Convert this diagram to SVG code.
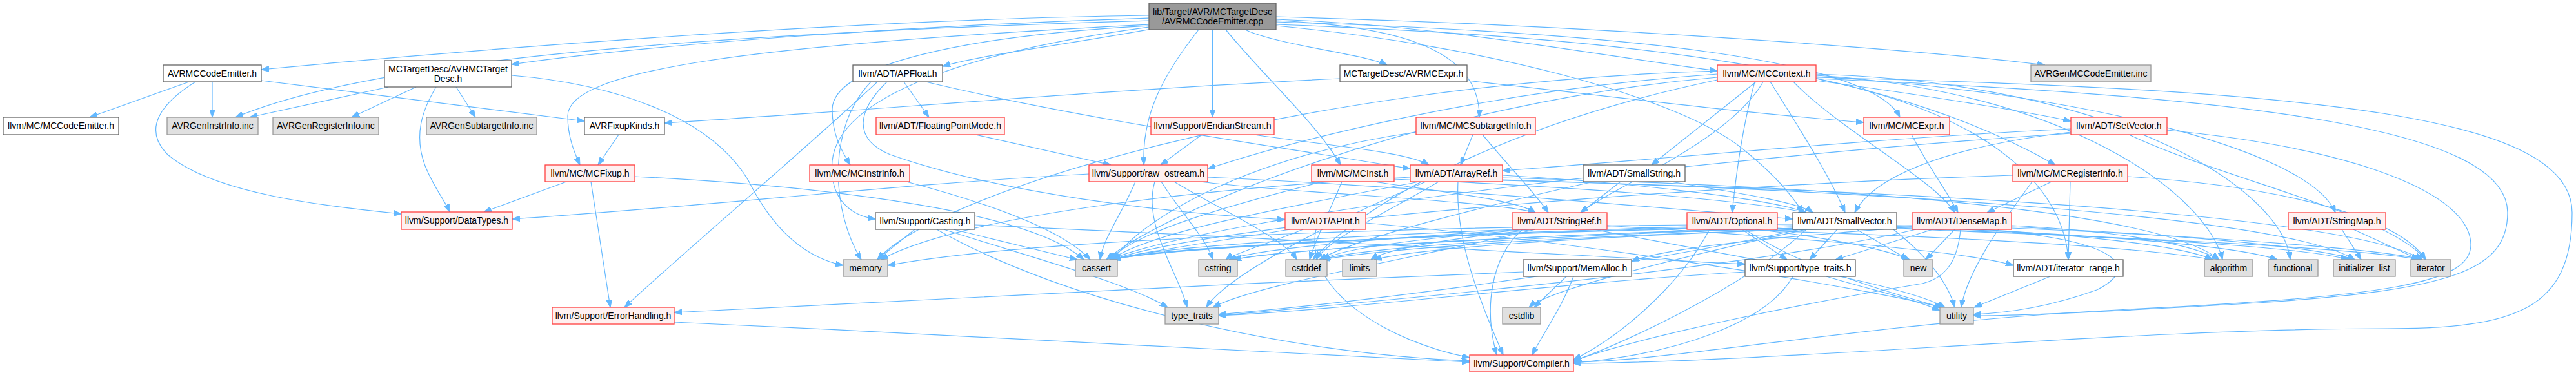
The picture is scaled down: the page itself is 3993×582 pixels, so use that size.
<svg xmlns="http://www.w3.org/2000/svg" width="3993" height="582" viewBox="0 0 3993 582">
<style>
text{font-family:"Liberation Sans",Arial,sans-serif;font-size:14px;fill:#000;text-anchor:middle}
rect{stroke-width:1.3}
.root{fill:#999999;stroke:#666666}
.nrm{fill:#ffffff;stroke:#666666}
.red{fill:#fff0f0;stroke:#ff4040}
.ext{fill:#e0e0e0;stroke:#999999}
#edges path{fill:none;stroke:#63b8ff;stroke-width:1.2;marker-end:url(#ah)}
</style>
<defs>
<marker id="ah" viewBox="0 0 12 9" refX="12" refY="4.5" markerWidth="12" markerHeight="9" markerUnits="userSpaceOnUse" orient="auto"><path d="M0,0 L12,4.5 L0,9 z" fill="#63b8ff" stroke="#63b8ff"/></marker>
</defs>
<rect width="3993" height="582" fill="#ffffff"/>
<g id="edges">
<path d="M1781,24 C1300,30 700,80 405,108"/>
<path d="M1781,28 C1400,40 1000,70 793,100"/>
<path d="M1781,32 C1000,55 560,100 365,182"/>
<path d="M1785,45 C1650,70 1520,85 1461,103"/>
<path d="M1930,46 C1980,70 2120,85 2150,101"/>
<path d="M1978,30 C2250,40 2500,90 2662,110"/>
<path d="M1978,26 C2500,40 3000,80 3170,101"/>
<path d="M1978,34 C2500,50 2900,90 2945,182"/>
<path d="M1781,38 C1150,70 880,110 880,180 C880,215 892,240 899,256"/>
<path d="M1900,46 C1960,120 2040,190 2078,256"/>
<path d="M1781,40 C1500,55 1290,100 1290,170 C1290,210 1305,235 1318,256"/>
<path d="M1978,38 C2600,60 2950,120 3186,256"/>
<path d="M1978,32 C2150,40 2295,70 2293,182"/>
<path d="M1781,42 C1500,80 1300,150 1290,250 C1285,310 1320,335 1357,340"/>
<path d="M1879.5,46 L1879.5,182"/>
<path d="M1858,46 C1800,120 1770,180 1773,256"/>
<path d="M1978,40 C2300,70 2600,150 2700,230 C2750,270 2775,300 2795,330"/>
<path d="M293,127 L139,182"/>
<path d="M329,127 L329,182"/>
<path d="M303,127 C250,160 220,200 260,240 C330,300 500,320 622,332"/>
<path d="M405,125 L906,188"/>
<path d="M602,135 L387,182"/>
<path d="M645,135 L545,182"/>
<path d="M707,135 L737,182"/>
<path d="M676,135 C655,170 640,210 660,260 C675,295 690,312 697,329"/>
<path d="M793,117 C950,130 1100,180 1160,280 C1200,360 1250,400 1307,412"/>
<path d="M2077,122 C1700,140 1300,175 1030,191"/>
<path d="M2274,125 C2500,150 2700,175 2889,190"/>
<path d="M959,209 L927,256"/>
<path d="M878,282 L750,329"/>
<path d="M916,282 L946,477"/>
<path d="M984,274 C1300,290 1600,330 1680,403"/>
<path d="M1401,127 L1440,182"/>
<path d="M1435,127 C1700,190 2000,230 2186,262"/>
<path d="M1375,127 C1330,170 1320,215 1380,240 C1550,300 1800,330 1992,341"/>
<path d="M1360,127 C1250,230 1050,400 968,477"/>
<path d="M1350,127 C1280,200 1290,330 1335,403"/>
<path d="M1512,209 L1722,256"/>
<path d="M1863,209 L1799,256"/>
<path d="M1944,209 C2050,225 2180,235 2215,256"/>
<path d="M1688,270 C1400,285 1100,320 794,340"/>
<path d="M1872,275 C2200,290 2550,320 2779,340"/>
<path d="M1860,282 C2000,300 2300,310 2380,330"/>
<path d="M1760,282 C1740,330 1710,370 1705,403"/>
<path d="M1820,282 C1900,330 1990,370 2010,403"/>
<path d="M1800,282 C1830,330 1870,370 1880,403"/>
<path d="M1790,282 C1770,350 1830,430 1840,477"/>
<path d="M2780,127 C2850,200 3000,280 3030,330"/>
<path d="M2720,127 C2700,200 2690,280 2685,330"/>
<path d="M2815,125 C3000,150 3150,175 3210,188"/>
<path d="M2722,127 L2560,256"/>
<path d="M2744,127 C2790,200 2840,280 2860,330"/>
<path d="M2815,119 C3200,140 3580,230 3620,330"/>
<path d="M2733,127 C2680,220 2500,290 2450,330"/>
<path d="M2815,122 C3100,180 3200,300 3206,403"/>
<path d="M2662,115 C2300,140 2000,220 1872,262"/>
<path d="M2815,117 C3200,140 3420,300 3445,403"/>
<path d="M2662,120 C2200,160 1800,330 1715,403"/>
<path d="M2662,124 C2300,200 2100,330 2035,403"/>
<path d="M2815,115 C3300,130 3540,300 3550,403"/>
<path d="M2662,110 C2000,130 1450,300 1360,403"/>
<path d="M2815,122 C3500,150 3887,200 3887,330 C3887,420 3800,450 3500,470 C3300,482 3150,490 3059,490"/>
<path d="M2815,120 C3600,140 3987,180 3987,330 C3987,480 3900,510 3700,510 C3300,510 2800,560 2439,564"/>
<path d="M2963,209 C2990,260 3020,300 3035,330"/>
<path d="M3210,200 C2900,215 2600,245 2329,265"/>
<path d="M3210,205 C3000,230 2900,280 2875,330"/>
<path d="M3359,202 C3650,230 3830,300 3830,380 C3830,440 3700,460 3300,480 C2900,500 2600,560 2439,562"/>
<path d="M3210,207 C2700,240 1900,330 1720,403"/>
<path d="M3300,209 C3450,280 3700,330 3760,403"/>
<path d="M2283,209 L2264,256"/>
<path d="M2298,209 C2340,260 2380,300 2400,330"/>
<path d="M2195,205 C1950,240 1780,330 1725,403"/>
<path d="M2161,278 C2450,290 2700,310 2800,330"/>
<path d="M2130,282 C2250,300 2350,310 2380,330"/>
<path d="M2050,282 C1900,320 1760,360 1720,403"/>
<path d="M2080,282 C2060,330 2040,370 2030,403"/>
<path d="M1405,282 C1550,320 1650,360 1690,403"/>
<path d="M3180,282 L3080,330"/>
<path d="M3209,282 L3206,403"/>
<path d="M3120,272 C2700,285 1900,340 1725,403"/>
<path d="M3298,274 C3550,290 3720,340 3760,403"/>
<path d="M3150,282 C3100,350 3050,420 3040,477"/>
<path d="M2329,272 C2550,285 2750,310 2800,330"/>
<path d="M2260,282 C2255,380 2300,480 2330,551"/>
<path d="M2329,276 C2900,290 3350,330 3440,403"/>
<path d="M2200,282 C2000,320 1780,360 1722,403"/>
<path d="M2230,282 C2150,330 2060,370 2040,403"/>
<path d="M2329,279 C3000,300 3550,340 3650,403"/>
<path d="M2329,280 C3100,300 3650,340 3755,403"/>
<path d="M2186,275 C1900,290 1500,330 1365,403"/>
<path d="M2210,282 C2050,350 1900,430 1870,477"/>
<path d="M2590,282 C2700,300 2790,315 2810,330"/>
<path d="M2512,282 L2450,330"/>
<path d="M2470,282 C2300,320 2100,370 2045,403"/>
<path d="M1452,356 C1650,470 2000,550 2278,560"/>
<path d="M1511,349 C2000,370 2500,400 2705,410"/>
<path d="M1478,356 L1670,403"/>
<path d="M1418,356 L1360,403"/>
<path d="M1463,356 C1600,400 1750,440 1810,477"/>
<path d="M2040,356 C2020,450 2150,530 2278,555"/>
<path d="M2000,356 C1850,380 1750,395 1725,403"/>
<path d="M2020,356 C1960,380 1910,395 1900,403"/>
<path d="M2117,346 C2500,380 2900,450 3010,477"/>
<path d="M2491,350 C2800,370 3050,390 3121,412"/>
<path d="M2360,356 C2310,400 2300,480 2320,551"/>
<path d="M2491,352 C2900,360 3300,380 3430,403"/>
<path d="M2350,356 C2000,370 1780,385 1725,403"/>
<path d="M2370,356 C2200,370 2080,385 2050,403"/>
<path d="M2360,356 C2150,370 1950,385 1905,403"/>
<path d="M2380,356 C2250,370 2150,385 2125,403"/>
<path d="M2380,356 C2200,400 1950,440 1880,477"/>
<path d="M2470,356 C2700,400 2950,440 3015,477"/>
<path d="M2650,356 C2600,450 2500,530 2439,558"/>
<path d="M2700,356 L2770,403"/>
<path d="M2615,352 C2200,365 1800,385 1725,403"/>
<path d="M2720,356 C2850,370 2930,390 2960,403"/>
<path d="M2705,356 C2800,420 2950,460 3010,477"/>
<path d="M2800,356 C2700,450 2500,540 2439,560"/>
<path d="M2848,356 L2805,403"/>
<path d="M2940,350 C3200,360 3380,380 3430,403"/>
<path d="M2779,350 C2300,360 1800,385 1725,403"/>
<path d="M2785,354 C2400,365 2100,385 2050,403"/>
<path d="M2800,356 C2600,400 2400,450 2370,477"/>
<path d="M2779,352 C2400,365 2000,385 1910,403"/>
<path d="M2940,352 C3300,365 3480,385 3530,403"/>
<path d="M2940,354 C3350,370 3580,385 3640,403"/>
<path d="M2940,355 C3400,372 3680,388 3750,403"/>
<path d="M2785,356 C2450,368 2200,385 2130,403"/>
<path d="M2779,348 C2200,350 1600,370 1376,412"/>
<path d="M2878,356 L2958,403"/>
<path d="M2790,356 C2500,420 2100,470 1889,488"/>
<path d="M2935,356 C2990,400 3020,440 3030,477"/>
<path d="M3039,356 C3035,400 3020,430 2980,440 C2800,470 2550,520 2439,560"/>
<path d="M2964,352 C2800,365 2600,380 2529,405"/>
<path d="M2996,356 L2845,403"/>
<path d="M3118,350 C3300,360 3400,380 3440,403"/>
<path d="M2964,350 C2400,355 1800,380 1725,403"/>
<path d="M2964,353 C2500,360 2150,385 2050,403"/>
<path d="M2964,351 C2450,358 2000,385 1912,403"/>
<path d="M3118,352 C3400,365 3600,385 3650,403"/>
<path d="M3118,354 C3450,368 3700,388 3755,403"/>
<path d="M3030,356 L2985,403"/>
<path d="M2970,356 C2700,420 2100,470 1889,490"/>
<path d="M3118,360 C3300,380 3310,420 3250,450 C3180,475 3120,485 3059,488"/>
<path d="M3630,356 L3660,403"/>
<path d="M3648,356 L3750,403"/>
<path d="M2439,429 C2420,480 2390,520 2375,551"/>
<path d="M2361,422 C1900,440 1300,470 1045,485"/>
<path d="M2428,429 L2378,477"/>
<path d="M2779,429 C2740,500 2600,550 2439,563"/>
<path d="M2705,422 C2400,440 2100,480 1889,490"/>
<path d="M2831,429 C2900,450 2970,465 3007,482"/>
<path d="M3178,429 L3060,477"/>
<path d="M1045,500 C1500,520 2000,550 2278,562"/>
</g>
<g id="n0"><rect class="root" x="1781" y="5" width="197" height="41"/><text x="1879.5" y="23">lib/Target/AVR/MCTargetDesc</text><text x="1879.5" y="38">/AVRMCCodeEmitter.cpp</text></g>
<g id="n1"><rect class="nrm" x="253" y="101" width="152" height="26"/><text x="329" y="119">AVRMCCodeEmitter.h</text></g>
<g id="n2"><rect class="nrm" x="596" y="94" width="197" height="41"/><text x="694.5" y="112">MCTargetDesc/AVRMCTarget</text><text x="694.5" y="127">Desc.h</text></g>
<g id="n3"><rect class="nrm" x="1322" y="101" width="139" height="26"/><text x="1391.5" y="119">llvm/ADT/APFloat.h</text></g>
<g id="n4"><rect class="nrm" x="2077" y="101" width="197" height="26"/><text x="2175.5" y="119">MCTargetDesc/AVRMCExpr.h</text></g>
<g id="n5"><rect class="red" x="2662" y="101" width="153" height="26"/><text x="2738.5" y="119">llvm/MC/MCContext.h</text></g>
<g id="n6"><rect class="ext" x="3148" y="101" width="186" height="26"/><text x="3241" y="119">AVRGenMCCodeEmitter.inc</text></g>
<g id="n7"><rect class="nrm" x="5" y="182" width="179" height="27"/><text x="94.5" y="200">llvm/MC/MCCodeEmitter.h</text></g>
<g id="n8"><rect class="ext" x="259" y="182" width="141" height="27"/><text x="329.5" y="200">AVRGenInstrInfo.inc</text></g>
<g id="n9"><rect class="ext" x="423" y="182" width="164" height="27"/><text x="505" y="200">AVRGenRegisterInfo.inc</text></g>
<g id="n10"><rect class="ext" x="661" y="182" width="171" height="27"/><text x="746.5" y="200">AVRGenSubtargetInfo.inc</text></g>
<g id="n11"><rect class="nrm" x="906" y="182" width="124" height="27"/><text x="968" y="200">AVRFixupKinds.h</text></g>
<g id="n12"><rect class="red" x="1358" y="182" width="199" height="27"/><text x="1457.5" y="200">llvm/ADT/FloatingPointMode.h</text></g>
<g id="n13"><rect class="red" x="1784" y="182" width="191" height="27"/><text x="1879.5" y="200">llvm/Support/EndianStream.h</text></g>
<g id="n14"><rect class="red" x="2195" y="182" width="185" height="27"/><text x="2287.5" y="200">llvm/MC/MCSubtargetInfo.h</text></g>
<g id="n15"><rect class="red" x="2889" y="182" width="133" height="27"/><text x="2955.5" y="200">llvm/MC/MCExpr.h</text></g>
<g id="n16"><rect class="red" x="3210" y="182" width="149" height="27"/><text x="3284.5" y="200">llvm/ADT/SetVector.h</text></g>
<g id="n17"><rect class="red" x="845" y="256" width="139" height="26"/><text x="914.5" y="274">llvm/MC/MCFixup.h</text></g>
<g id="n18"><rect class="red" x="1255" y="256" width="155" height="26"/><text x="1332.5" y="274">llvm/MC/MCInstrInfo.h</text></g>
<g id="n19"><rect class="red" x="1688" y="256" width="184" height="26"/><text x="1780" y="274">llvm/Support/raw_ostream.h</text></g>
<g id="n20"><rect class="red" x="2033" y="256" width="128" height="26"/><text x="2097" y="274">llvm/MC/MCInst.h</text></g>
<g id="n21"><rect class="red" x="2186" y="256" width="143" height="26"/><text x="2257.5" y="274">llvm/ADT/ArrayRef.h</text></g>
<g id="n22"><rect class="nrm" x="2454" y="256" width="158" height="26"/><text x="2533" y="274">llvm/ADT/SmallString.h</text></g>
<g id="n23"><rect class="red" x="3120" y="256" width="178" height="26"/><text x="3209" y="274">llvm/MC/MCRegisterInfo.h</text></g>
<g id="n24"><rect class="red" x="622" y="329" width="172" height="27"/><text x="708" y="347">llvm/Support/DataTypes.h</text></g>
<g id="n25"><rect class="nrm" x="1357" y="330" width="154" height="26"/><text x="1434" y="348">llvm/Support/Casting.h</text></g>
<g id="n26"><rect class="red" x="1992" y="330" width="125" height="26"/><text x="2054.5" y="348">llvm/ADT/APInt.h</text></g>
<g id="n27"><rect class="red" x="2344" y="330" width="147" height="26"/><text x="2417.5" y="348">llvm/ADT/StringRef.h</text></g>
<g id="n28"><rect class="red" x="2615" y="330" width="140" height="26"/><text x="2685" y="348">llvm/ADT/Optional.h</text></g>
<g id="n29"><rect class="nrm" x="2779" y="330" width="161" height="26"/><text x="2859.5" y="348">llvm/ADT/SmallVector.h</text></g>
<g id="n30"><rect class="red" x="2964" y="330" width="154" height="26"/><text x="3041" y="348">llvm/ADT/DenseMap.h</text></g>
<g id="n31"><rect class="red" x="3547" y="330" width="151" height="26"/><text x="3622.5" y="348">llvm/ADT/StringMap.h</text></g>
<g id="n32"><rect class="ext" x="1307" y="403" width="69" height="26"/><text x="1341.5" y="421">memory</text></g>
<g id="n33"><rect class="ext" x="1667" y="403" width="65" height="26"/><text x="1699.5" y="421">cassert</text></g>
<g id="n34"><rect class="ext" x="1858" y="403" width="60" height="26"/><text x="1888" y="421">cstring</text></g>
<g id="n35"><rect class="ext" x="1993" y="403" width="64" height="26"/><text x="2025" y="421">cstddef</text></g>
<g id="n36"><rect class="ext" x="2081" y="403" width="53" height="26"/><text x="2107.5" y="421">limits</text></g>
<g id="n37"><rect class="nrm" x="2361" y="403" width="168" height="26"/><text x="2445" y="421">llvm/Support/MemAlloc.h</text></g>
<g id="n38"><rect class="nrm" x="2705" y="403" width="171" height="26"/><text x="2790.5" y="421">llvm/Support/type_traits.h</text></g>
<g id="n39"><rect class="ext" x="2951" y="403" width="45" height="26"/><text x="2973.5" y="421">new</text></g>
<g id="n40"><rect class="nrm" x="3121" y="403" width="170" height="26"/><text x="3206" y="421">llvm/ADT/iterator_range.h</text></g>
<g id="n41"><rect class="ext" x="3417" y="403" width="75" height="26"/><text x="3454.5" y="421">algorithm</text></g>
<g id="n42"><rect class="ext" x="3516" y="403" width="77" height="26"/><text x="3554.5" y="421">functional</text></g>
<g id="n43"><rect class="ext" x="3617" y="403" width="96" height="26"/><text x="3665" y="421">initializer_list</text></g>
<g id="n44"><rect class="ext" x="3737" y="403" width="62" height="26"/><text x="3768" y="421">iterator</text></g>
<g id="n45"><rect class="red" x="856" y="477" width="189" height="26"/><text x="950.5" y="495">llvm/Support/ErrorHandling.h</text></g>
<g id="n46"><rect class="ext" x="1806" y="477" width="83" height="26"/><text x="1847.5" y="495">type_traits</text></g>
<g id="n47"><rect class="ext" x="2329" y="477" width="59" height="26"/><text x="2358.5" y="495">cstdlib</text></g>
<g id="n48"><rect class="ext" x="3007" y="477" width="52" height="26"/><text x="3033" y="495">utility</text></g>
<g id="n49"><rect class="red" x="2278" y="551" width="161" height="26"/><text x="2358.5" y="569">llvm/Support/Compiler.h</text></g>
</svg>
